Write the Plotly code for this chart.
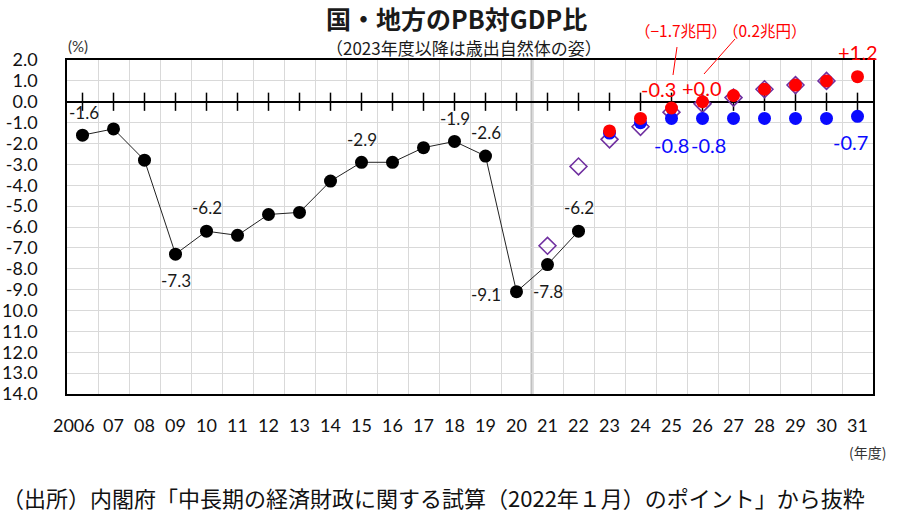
import plotly.graph_objects as go

# ---------------- data ----------------
years = ["2006", "07", "08", "09", "10", "11", "12", "13", "14", "15", "16", "17", "18",
         "19", "20", "21", "22", "23", "24", "25", "26", "27", "28", "29", "30", "31"]

# actual (black line), FY2006-2022
actual_years = years[0:17]
actual_vals = [-1.6, -1.3, -2.8, -7.3, -6.2, -6.4, -5.4, -5.3, -3.8, -2.9, -2.9, -2.2, -1.9,
               -2.6, -9.1, -7.8, -6.2]

# previous projection (purple open diamonds), FY2021-2030
prev_years = years[15:25]
prev_vals = [-6.9, -3.1, -1.8, -1.2, -0.5, -0.1, 0.2, 0.6, 0.8, 1.0]

# projection, high-growth case (red), FY2023-2031
red_years = years[17:26]
red_vals = [-1.4, -0.8, -0.3, 0.0, 0.3, 0.6, 0.8, 1.0, 1.2]

# projection, baseline case (blue), FY2023-2031
blue_years = years[17:26]
blue_vals = [-1.5, -1.0, -0.8, -0.8, -0.8, -0.8, -0.8, -0.8, -0.7]

y_tickvals = [2, 1, 0, -1, -2, -3, -4, -5, -6, -7, -8, -9, -10, -11, -12, -13, -14]
y_ticktext = ["2.0", "1.0", "0.0", "-1.0", "-2.0", "-3.0", "-4.0", "-5.0", "-6.0", "-7.0",
              "-8.0", "-9.0", "10.0", "11.0", "12.0", "13.0", "14.0"]

title_text = "国・地方のPB対GDP比"
subtitle_text = "（2023年度以降は歳出自然体の姿）"
note_red1 = "（−1.7兆円）"
note_red2 = "（0.2兆円）"
source_text = "（出所）内閣府「中長期の経済財政に関する試算（2022年１月）のポイント」から抜粋"

# ---------------- styling ----------------
W, H = 900, 519
L, R, T, B = 67, 27, 60, 125
PW, PH = W - L - R, H - T - B

def px(xp):
    return (xp - L) / PW

def py(yp):
    return (H - B - yp) / PH

idx = {y: i for i, y in enumerate(years)}
LAT = "Lato, 'Noto Sans', sans-serif"
JP = "'Noto Sans CJK JP', sans-serif"

# label positions: the first (wide) label sits a little left of its slot in the original
x_label_pos = [i for i in range(len(years))]
x_label_pos[0] = x_label_pos[0] - 0.28

fig = go.Figure()

# tick marks on the zero line
fig.add_trace(go.Scatter(
    x=list(range(len(years))), y=[0] * len(years), mode="markers",
    marker=dict(symbol="line-ns", size=13, line=dict(width=1.5, color="black")),
    hoverinfo="skip", showlegend=False, cliponaxis=False))

fig.add_trace(go.Scatter(
    x=[idx[y] for y in prev_years], y=prev_vals, mode="markers",
    marker=dict(symbol="diamond-open", size=13, color="#7030A0", line=dict(width=1.6, color="#7030A0")),
    showlegend=False))

fig.add_trace(go.Scatter(
    x=[idx[y] for y in blue_years], y=blue_vals, mode="markers",
    marker=dict(symbol="circle", size=13, color="#0a0aff"),
    showlegend=False))

fig.add_trace(go.Scatter(
    x=[idx[y] for y in red_years], y=red_vals, mode="markers",
    marker=dict(symbol="circle", size=13, color="#ff0000"),
    showlegend=False))

fig.add_trace(go.Scatter(
    x=[idx[y] for y in actual_years], y=actual_vals, mode="lines+markers",
    line=dict(color="#222222", width=1),
    marker=dict(symbol="circle", size=13, color="black"),
    showlegend=False))

annotations = []

black_labels = {"2006": (1, 23), "09": (0, -26), "10": (0, 24), "15": (0, 23),
                "18": (0, 23), "19": (0, 24), "20": (-31, -3), "21": (0, -27), "22": (0, 24)}
for yr, (dx, dy) in black_labels.items():
    v = actual_vals[actual_years.index(yr)]
    annotations.append(dict(x=idx[yr], y=v, xref="x", yref="y", text=f"{v:.1f}",
                            showarrow=False, xshift=dx, yshift=dy,
                            font=dict(family=LAT, size=17, color="#1a1a1a")))

red_labels = {"25": (-13, 19), "26": (-1, 14), "31": (0, 25)}
for yr, (dx, dy) in red_labels.items():
    v = red_vals[red_years.index(yr)]
    annotations.append(dict(x=idx[yr], y=v, xref="x", yref="y", text=f"{v:+.1f}",
                            showarrow=False, xshift=dx, yshift=dy,
                            font=dict(family=LAT, size=20, color="#ff0000")))

blue_labels = {"25": (0, -27), "26": (6, -27), "31": (-7, -26)}
for yr, (dx, dy) in blue_labels.items():
    v = blue_vals[blue_years.index(yr)]
    annotations.append(dict(x=idx[yr], y=v, xref="x", yref="y", text=f"{v:.1f}",
                            showarrow=False, xshift=dx, yshift=dy,
                            font=dict(family=LAT, size=20, color="#0a0aff")))

annotations += [
    dict(x=px(456), y=py(18), xref="paper", yref="paper", text=f"<b>{title_text}</b>",
         showarrow=False, xanchor="center", yanchor="middle",
         font=dict(family=JP, size=25, color="#1a1a1a")),
    dict(x=px(464), y=py(48), xref="paper", yref="paper", text=subtitle_text,
         showarrow=False, xanchor="center", yanchor="middle",
         font=dict(family=JP, size=17, color="#1a1a1a")),
    dict(x=px(681), y=py(30), xref="paper", yref="paper", text=note_red1,
         showarrow=False, xanchor="center", yanchor="middle",
         font=dict(family=JP, size=15.5, color="#ff0000")),
    dict(x=px(765), y=py(30), xref="paper", yref="paper", text=note_red2,
         showarrow=False, xanchor="center", yanchor="middle",
         font=dict(family=JP, size=15.5, color="#ff0000")),
    dict(x=px(78), y=py(46), xref="paper", yref="paper", text="(%)",
         showarrow=False, xanchor="center", yanchor="middle",
         font=dict(family=LAT, size=15, color="#333333")),
    dict(x=px(867), y=py(452), xref="paper", yref="paper", text="(年度)",
         showarrow=False, xanchor="center", yanchor="middle",
         font=dict(family=JP, size=14, color="#333333")),
    dict(x=px(0), y=py(497), xref="paper", yref="paper", text=source_text,
         showarrow=False, xanchor="left", yanchor="middle",
         font=dict(family=JP, size=22, color="#111111")),
]

shapes = [
    dict(type="line", xref="x", yref="paper", x0=idx["20"] + 0.5, x1=idx["20"] + 0.5,
         y0=0, y1=1, line=dict(color="#c0c0c0", width=3), layer="below"),
    dict(type="line", xref="paper", yref="paper", x0=px(677), y0=py(47), x1=px(673), y1=py(75),
         line=dict(color="#ff0000", width=1)),
    dict(type="line", xref="paper", yref="paper", x0=px(735), y0=py(39), x1=px(704), y1=py(74),
         line=dict(color="#ff0000", width=1)),
]

fig.update_layout(
    width=W, height=H,
    margin=dict(l=L, r=R, t=T, b=B, pad=0),
    paper_bgcolor="white", plot_bgcolor="white",
    annotations=annotations, shapes=shapes,
    xaxis=dict(range=[-0.5, len(years) - 0.5], tickmode="array",
               tickvals=x_label_pos, ticktext=years,
               showgrid=False, zeroline=False, ticks="", tickangle=0, automargin=False,
               minor=dict(tick0=-0.5, dtick=1, showgrid=True, gridcolor="#d9d9d9", gridwidth=1, ticks=""),
               showline=True, linecolor="black", linewidth=1.5, mirror=True,
               ticklabelstandoff=15,
               tickfont=dict(family=LAT, size=18, color="#111111")),
    yaxis=dict(range=[-14, 2], tickmode="array", tickvals=y_tickvals, ticktext=y_ticktext,
               showgrid=True, gridcolor="#d9d9d9", gridwidth=1, automargin=False,
               zeroline=True, zerolinecolor="black", zerolinewidth=1.5,
               ticks="", showline=True, linecolor="black", linewidth=1.5, mirror=True,
               ticklabelstandoff=24,
               tickfont=dict(family=LAT, size=18, color="#111111")),
)

fig.write_html("out.html")
